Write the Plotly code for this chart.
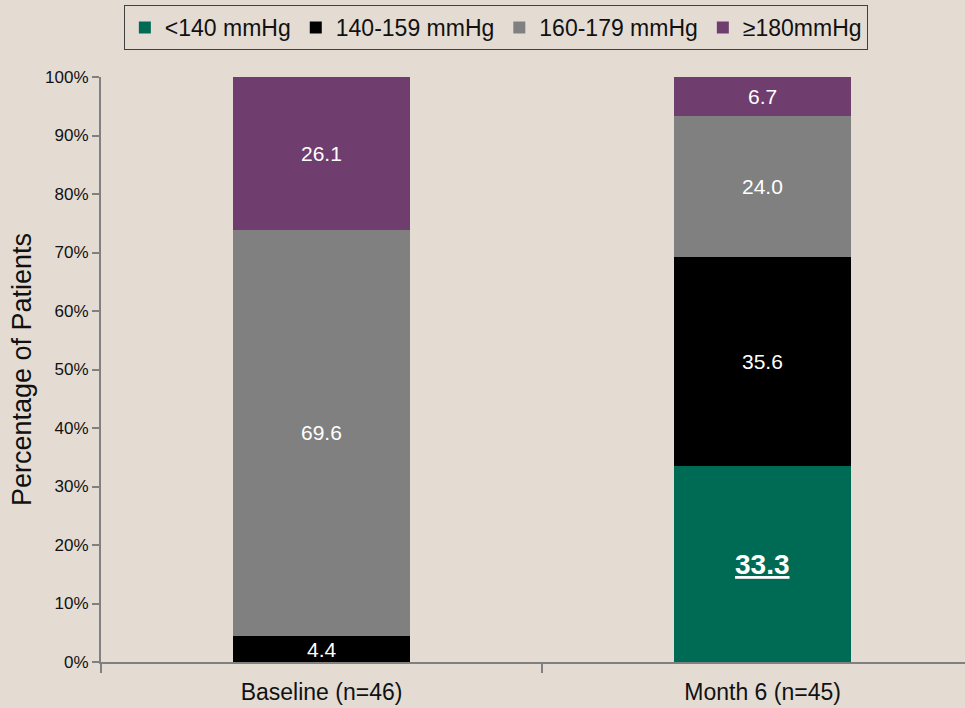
import plotly.graph_objects as go

categories = ["Baseline (n=46)", "Month 6 (n=45)"]
series_names = ["<140 mmHg", "140-159 mmHg", "160-179 mmHg", "≥180mmHg"]
lt140 = [0.0, 33.3]
s140_159 = [4.4, 35.6]
s160_179 = [69.6, 24.0]
ge180 = [26.1, 6.7]
y_ticks = [0, 10, 20, 30, 40, 50, 60, 70, 80, 90, 100]
y_tick_labels = [f"{v}%" for v in y_ticks]

series_values = [lt140, s140_159, s160_179, ge180]
colors = ["#006B54", "#000000", "#808080", "#6F3E6F"]
BG = "#E4DCD3"
FONT = "Liberation Sans, Arial, sans-serif"

fig = go.Figure()
for name, vals, col in zip(series_names, series_values, colors):
    fig.add_trace(go.Bar(
        x=categories, y=vals, name=name, marker=dict(color=col, line=dict(width=0)),
        width=0.4, hoverinfo="skip",
    ))

# labels at the middle of each (normalised) segment
annotations = []
for ci, cat in enumerate(categories):
    total = sum(v[ci] for v in series_values)
    cum = 0.0
    for si, vals in enumerate(series_values):
        v = vals[ci]
        h = v / total * 100
        if v > 0:
            mid = cum + h / 2
            if si == 0:
                txt = f"<u><b>{v:.1f}</b></u>"
                size = 28
            else:
                txt = f"{v:.1f}"
                size = 21
            annotations.append(dict(
                x=cat, y=mid, xref="x", yref="y", text=txt, showarrow=False,
                font=dict(family=FONT, size=size, color="white"),
            ))
        cum += h

fig.update_layout(
    barmode="stack", barnorm="percent",
    width=965, height=708,
    margin=dict(l=101, r=0, t=77, b=46),
    paper_bgcolor=BG, plot_bgcolor=BG,
    font=dict(family=FONT, color="#111111"),
    annotations=annotations,
    showlegend=True,
    legend=dict(
        orientation="h", x=0.457, xanchor="center", y=1.123, yanchor="top",
        bgcolor=BG, bordercolor="#404040", borderwidth=1,
        font=dict(family=FONT, size=23, color="#111111"),
        traceorder="normal", itemwidth=30,
    ),
    xaxis=dict(
        range=[-0.5, 1.459], showline=True, linecolor="#808080", linewidth=2,
        ticks="outside", tickson="boundaries", ticklen=9, tickcolor="#808080", tickwidth=2,
        tickfont=dict(family=FONT, size=23, color="#111111"), showgrid=False, zeroline=False,
        ticklabelstandoff=8,
    ),
    yaxis=dict(
        range=[0, 100], tickvals=y_ticks, ticktext=y_tick_labels,
        showline=True, linecolor="#808080", linewidth=2,
        ticks="outside", ticklen=7, tickcolor="#808080", tickwidth=2,
        tickfont=dict(family=FONT, size=17, color="#111111"), showgrid=False, zeroline=False,
        title=dict(text="Percentage of Patients", font=dict(family=FONT, size=27, color="#111111"), standoff=6),
    ),
)

fig.write_html("out.html")
